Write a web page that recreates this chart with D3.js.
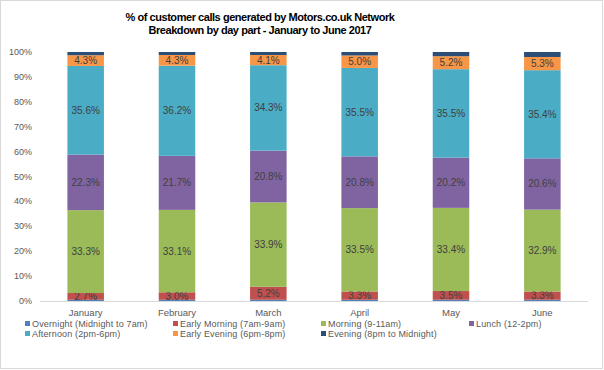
<!DOCTYPE html>
<html lang="en">
<head>
<meta charset="UTF-8"/>
<title>Customer calls by day part</title>
<script src="https://d3js.org/d3.v7.min.js"></script>
<style>
    body { margin: 0; background: #fff; }
    text { font-family: "Liberation Sans", Arial, sans-serif; }
</style>
</head>
<body>
<script>

    var w = 604;
    var h = 370;

    var months = ["January", "February", "March", "April", "May", "June"];
    var seriesNames = ["Overnight (Midnight to 7am)", "Early Morning  (7am-9am)", "Morning (9-11am)",
                       "Lunch (12-2pm)", "Afternoon (2pm-6pm)", "Early Evening (6pm-8pm)", "Evening (8pm to Midnight)"];
    var colors = ["#4F81BD", "#C0504D", "#9BBB59", "#8064A2", "#4BACC6", "#F79646", "#2C4D75"];

    // % values per series, one per month
    var overnight    = [0.5, 0.5, 0.5, 0.5, 0.5, 0.5];
    var earlyMorning = [2.7, 3.0, 5.2, 3.3, 3.5, 3.3];
    var morning      = [33.3, 33.1, 33.9, 33.5, 33.4, 32.9];
    var lunch        = [22.3, 21.7, 20.8, 20.8, 20.2, 20.6];
    var afternoon    = [35.6, 36.2, 34.3, 35.5, 35.5, 35.4];
    var earlyEvening = [4.3, 4.3, 4.1, 5.0, 5.2, 5.3];
    var evening      = [1.3, 1.2, 1.2, 1.4, 1.7, 2.0];
    var showLabel    = [false, true, true, true, true, true, false];

    var yTicks = [0, 10, 20, 30, 40, 50, 60, 70, 80, 90, 100];

    var allSeries = [overnight, earlyMorning, morning, lunch, afternoon, earlyEvening, evening];

    // build rows for d3.stack
    var table = months.map(function(m, i) {
        var row = { month: m };
        allSeries.forEach(function(s, k) { row["s" + k] = s[i]; });
        return row;
    });
    var keys = allSeries.map(function(s, k) { return "s" + k; });

    var svg = d3.select("body")
                .append("svg")
                .attr("width", w)
                .attr("height", h);

    // outer border
    svg.append("rect")
        .attr("x", 0.5).attr("y", 0.5)
        .attr("width", w - 2).attr("height", h - 2)
        .attr("fill", "#fff")
        .attr("stroke", "#d9d9d9");

    var xScale = d3.scaleBand()
        .domain(months)
        .range([40, 588])
        .paddingInner(0.6)
        .paddingOuter(0.3);

    var yScale = d3.scaleLinear()
        .domain([0, 100])
        .range([301, 52]);

    // title
    var title = svg.append("text")
        .attr("text-anchor", "middle")
        .attr("font-size", "11px")
        .attr("font-weight", "bold")
        .attr("letter-spacing", "-0.45px")
        .attr("fill", "#000");
    title.append("tspan").attr("x", 260).attr("y", 21).text("% of customer calls generated by Motors.co.uk Network");
    title.append("tspan").attr("x", 260).attr("y", 34).text("Breakdown by day part - January to June 2017");

    // y axis labels
    svg.selectAll(".ytick")
        .data(yTicks)
        .enter()
        .append("text")
        .attr("class", "ytick")
        .attr("x", 32)
        .attr("y", function(d) { return yScale(d) + 3; })
        .attr("text-anchor", "end")
        .attr("font-size", "9px")
        .attr("fill", "#595959")
        .text(function(d) { return d + "%"; });

    var stacked = d3.stack().keys(keys)(table);

    var layers = svg.selectAll(".layer")
        .data(stacked)
        .enter()
        .append("g")
        .attr("class", "layer")
        .attr("fill", function(d, i) { return colors[i]; });

    layers.selectAll("rect")
        .data(function(d) { return d; })
        .enter()
        .append("rect")
        .attr("x", function(d) { return xScale(d.data.month); })
        .attr("width", xScale.bandwidth())
        .attr("y", function(d) { return yScale(d[1]); })
        .attr("height", function(d) { return yScale(d[0]) - yScale(d[1]); });

    // data labels
    layers.each(function(layer, k) {
        if (!showLabel[k]) return;
        d3.select(this).selectAll("text")
            .data(layer)
            .enter()
            .append("text")
            .attr("x", function(d) { return xScale(d.data.month) + xScale.bandwidth() / 2; })
            .attr("y", function(d) { return (yScale(d[0]) + yScale(d[1])) / 2 + 3.5; })
            .attr("text-anchor", "middle")
            .attr("font-size", "10px")
            .attr("fill", "#404040")
            .text(function(d) { return (d[1] - d[0]).toFixed(1) + "%"; });
    });

    // x axis line
    svg.append("line")
        .attr("x1", 40).attr("x2", 588)
        .attr("y1", 301.5).attr("y2", 301.5)
        .attr("stroke", "#d9d9d9");

    svg.selectAll(".xlabel")
        .data(months)
        .enter()
        .append("text")
        .attr("class", "xlabel")
        .attr("x", function(d) { return xScale(d) + xScale.bandwidth() / 2; })
        .attr("y", 316)
        .attr("text-anchor", "middle")
        .attr("font-size", "9.5px")
        .attr("fill", "#595959")
        .text(function(d) { return d; });

    // legend
    var legend = svg.selectAll(".legend")
        .data(seriesNames)
        .enter()
        .append("g")
        .attr("class", "legend")
        .attr("transform", function(d, i) {
            return "translate(" + (25 + (i % 4) * 148) + "," + (324 + Math.floor(i / 4) * 10) + ")";
        });

    legend.append("rect")
        .attr("x", 0).attr("y", -3)
        .attr("width", 5).attr("height", 5)
        .attr("fill", function(d, i) { return colors[i]; });

    legend.append("text")
        .attr("x", 7)
        .attr("y", 3)
        .attr("font-size", "9px")
        .attr("letter-spacing", "0.15px")
        .attr("fill", "#595959")
        .text(function(d) { return d; });

</script>
</body>
</html>
